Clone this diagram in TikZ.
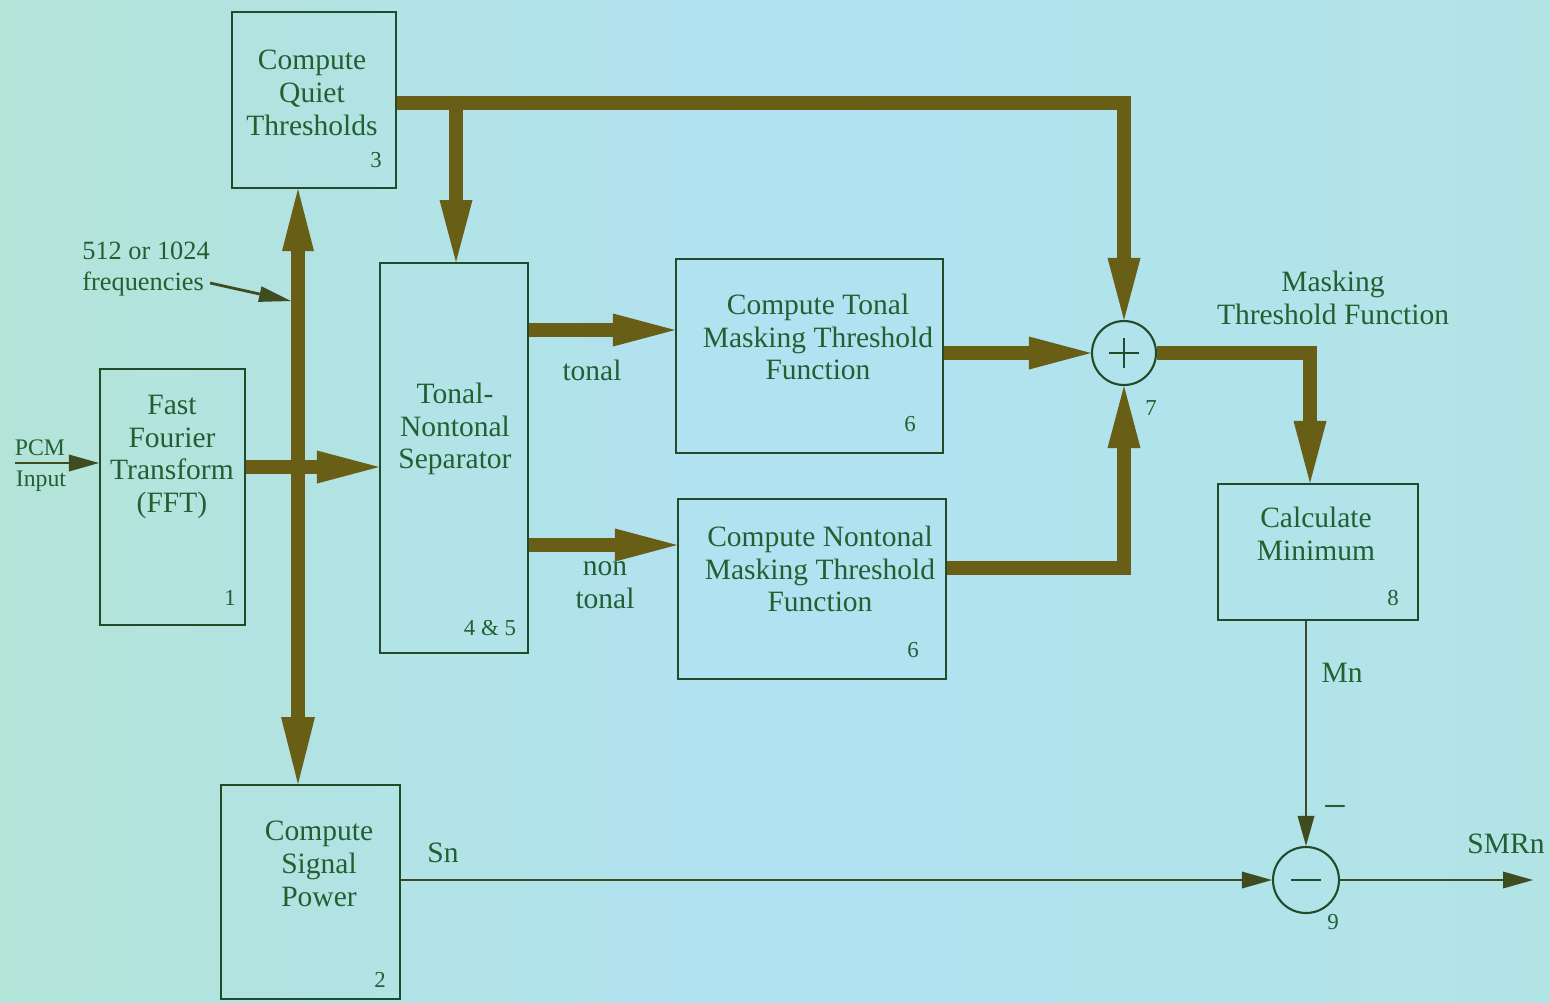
\documentclass[tikz,border=0pt]{standalone}
\usepackage{fontspec}
\setmainfont{Liberation Serif}
\usetikzlibrary{arrows.meta}
\definecolor{bgl}{RGB}{180,228,216}
\definecolor{bgm}{RGB}{176,226,242}
\definecolor{bgr}{RGB}{178,228,230}
\definecolor{arrowc}{RGB}{104,94,22}
\definecolor{textc}{RGB}{34,96,50}
\definecolor{linec}{RGB}{34,76,40}
\definecolor{wirec}{RGB}{62,76,32}
\begin{document}
\begin{tikzpicture}[x=0.02cm,y=-0.02cm,
  box/.style={draw=linec, line width=1.2pt, inner sep=0pt},
  circ/.style={draw=linec, line width=1.2pt, circle, inner sep=0pt},
  txt/.style={text=textc, align=center, inner sep=0pt, font=\fontsize{16.8}{18.6}\selectfont},
  small/.style={text=textc, align=center, inner sep=0pt, font=\fontsize{15}{17.6}\selectfont},
  num/.style={text=textc, inner sep=0pt, font=\fontsize{13}{15}\selectfont},
  bigtip/.style={Triangle[length=1.24cm,width=0.66cm,line width=0pt]},
  fat/.style={draw=arrowc, line width=8pt, line join=miter, -{Triangle[length=1.24cm,width=0.66cm,line width=0pt]}},
  fatboth/.style={draw=arrowc, line width=8pt,
    {Triangle[length=1.24cm,width=0.64cm,line width=0pt]}-{Triangle[length=1.34cm,width=0.68cm,line width=0pt]}},
  wire/.style={draw=wirec, line width=1.2pt, -{Triangle[length=0.6cm,width=0.34cm,line width=0pt]}},
  sign/.style={draw=linec, line width=1.5pt}]

% backdrop
\useasboundingbox (0,0) rectangle (1550,1002);
\shade[left color=bgl, right color=bgr, middle color=bgm] (0,0) rectangle (1550,1002);

% processing blocks
\node[box, minimum width=3.28cm, minimum height=3.52cm] (q) at (314,100) {};
\node[box, minimum width=2.90cm, minimum height=5.12cm] (fft) at (172.5,497) {};
\node[box, minimum width=2.96cm, minimum height=7.80cm] (sep) at (454,458) {};
\node[box, minimum width=5.34cm, minimum height=3.88cm] (ton) at (809.5,356) {};
\node[box, minimum width=5.36cm, minimum height=3.60cm] (non) at (812,589) {};
\node[box, minimum width=4.00cm, minimum height=2.72cm] (cmin) at (1318,552) {};
\node[box, minimum width=3.58cm, minimum height=4.28cm] (sp) at (310.5,892) {};
\node[circ, minimum size=1.28cm] (plus) at (1124,353) {};
\node[circ, minimum size=1.32cm] (minus) at (1306,880) {};

% signs inside the summing junctions
\draw[sign] ([xshift=-0.3cm]plus.center) -- ([xshift=0.3cm]plus.center);
\draw[sign] ([yshift=-0.3cm]plus.center) -- ([yshift=0.3cm]plus.center);
\draw[sign] ([xshift=-0.3cm]minus.center) -- ([xshift=0.3cm]minus.center);

% block texts
\node[txt] (tq) at (312,93) {Compute\\Quiet\\Thresholds};
\node[txt] (tfft) at (172,457) {Fast\\Fourier\\Transform\\(FFT)};
\node[txt] (tsep) at (455,429) {Tonal-\\Nontonal\\Separator};
\node[txt] (tton) at (818,337) {Compute Tonal\\Masking Threshold\\Function};
\node[txt] (tnon) at (820,569) {Compute Nontonal\\Masking Threshold\\Function};
\node[txt] (tcmin) at (1316,534) {Calculate\\Minimum};
\node[txt] (tsp) at (319,864) {Compute\\Signal\\Power};

% block numbers
\node[num] (n3) at (376,160) {3};
\node[num] (n1) at (230,598) {1};
\node[num] (n45) at (490,628) {4 \& 5};
\node[num] (n6a) at (910,424) {6};
\node[num] (n6b) at (913,650) {6};
\node[num] (n8) at (1393,598) {8};
\node[num] (n2) at (380,980) {2};
\node[num] (n7) at (1151,408) {7};
\node[num] (n9) at (1333,922) {9};

% signal labels
\node[small, font=\fontsize{13.5}{15}\selectfont] (lpcm) at (40,448) {PCM};
\node[small, font=\fontsize{13.5}{15}\selectfont] (lin) at (41,481) {Input};
\node[small, align=left, anchor=west] (lfreq) at (82,269) {512 or 1024\\frequencies};
\node[txt] (ltonal) at (592,370) {tonal};
\node[txt] (lnon) at (605,585) {non\\tonal};
\node[txt] (lmtf) at (1333,298) {Masking\\Threshold Function};
\node[txt] (lsn) at (443,853) {Sn};
\node[txt] (lmn) at (1342,673) {Mn};
\node[txt, font=\fontsize{24}{24}\selectfont] (lneg) at (1335,813) {−};
\node[txt] (lsmr) at (1506,844) {SMRn};

% free ends
\coordinate (pcm) at (15,463);
\coordinate (out) at (1533,880);
\coordinate (bushit) at (291,301);
\coordinate (br) at (456,103);

% wide data paths
\draw[fatboth] (298,0 |- q.south) -- (298,0 |- sp.north);
\draw[fat] (fft.east |- 0,467) -- (sep.west |- 0,467);
\draw[fat] (q.east |- 0,103) -| (plus.north);
\draw[fat] (br) -- (br |- sep.north);
\draw[fat] (sep.east |- 0,330) -- (ton.west |- 0,330);
\draw[fat] (sep.east |- 0,545) -- (non.west |- 0,545);
\draw[fat] (ton.east |- plus.west) -- (plus.west);
\draw[fat] (non.east |- 0,568) -| (plus.south);
\draw[fat] (plus.east) -| (1310,0 |- cmin.north);

% narrow signal paths
\draw[wire] (pcm) -- (fft.west |- pcm);
\draw[wire] (minus.north |- cmin.south) -- (minus.north);
\draw[wire] (sp.east |- minus.west) -- (minus.west);
\draw[wire] (minus.east) -- (out);
\draw[wire, line width=1.6pt, -{Triangle[length=0.64cm,width=0.32cm,line width=0pt]}] (lfreq.east |- 0,283) -- (bushit);
\end{tikzpicture}
\end{document}
